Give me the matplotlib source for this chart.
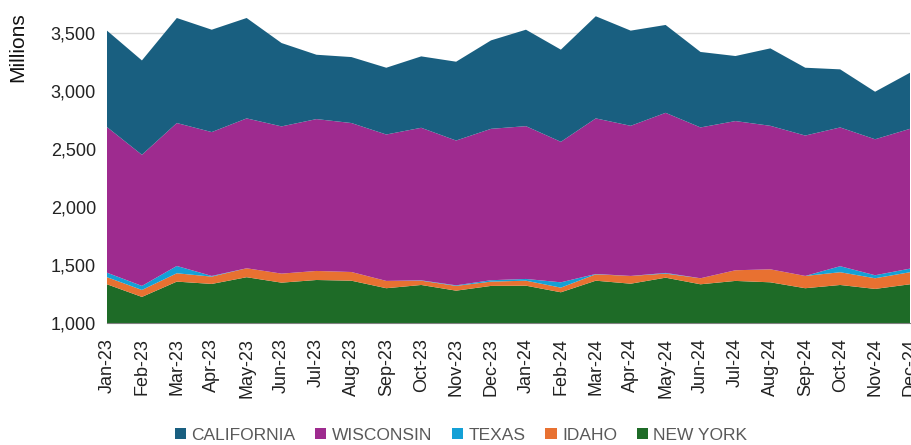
import matplotlib
matplotlib.use("Agg")
import matplotlib.pyplot as plt
import numpy as np

months = ["Jan-23","Feb-23","Mar-23","Apr-23","May-23","Jun-23","Jul-23","Aug-23","Sep-23","Oct-23","Nov-23","Dec-23",
          "Jan-24","Feb-24","Mar-24","Apr-24","May-24","Jun-24","Jul-24","Aug-24","Sep-24","Oct-24","Nov-24","Dec-24"]
new_york = [1334,1225,1357,1337,1395,1348,1371,1365,1300,1328,1279,1320,1322,1265,1365,1339,1391,1334,1363,1351,1300,1328,1294,1334]
idaho = [61,60,72,63,77,78,78,75,63,37,41,37,43,40,55,67,35,52,92,112,106,110,92,104]
texas = [39,35,63,6,0,0,0,0,0,3,5,12,15,46,3,0,6,0,0,0,0,52,26,31]
wisconsin = [1256,1131,1233,1241,1293,1270,1310,1285,1263,1316,1249,1306,1318,1212,1342,1295,1381,1301,1287,1238,1211,1197,1173,1206]
california = [832,814,906,883,866,719,555,569,576,616,680,763,832,795,881,821,758,651,561,668,585,501,410,484]

series = [("NEW YORK", new_york, "#1e6b27"),
          ("IDAHO", idaho, "#e87131"),
          ("TEXAS", texas, "#14a0d6"),
          ("WISCONSIN", wisconsin, "#9e2b8f"),
          ("CALIFORNIA", california, "#195f80")]

plt.rcParams['font.family'] = ['Liberation Sans', 'DejaVu Sans']

fig = plt.figure(figsize=(9.11, 4.45), dpi=100)
ax = fig.add_axes([107/911, 1-323/445, 803/911, 313/445])
x = np.arange(len(months))
ax.axhline(3500, color="#d9d9d9", lw=1, zorder=0)
ax.stackplot(x, [s[1] for s in series], colors=[s[2] for s in series],
             labels=[s[0] for s in series], zorder=2)
ax.set_xlim(0, len(months)-1)
ax.set_ylim(1000, 3700)
ax.set_yticks([1000,1500,2000,2500,3000,3500])
ax.set_yticklabels([f"{v:,}" for v in [1000,1500,2000,2500,3000,3500]], fontsize=13, color="#222222")
ax.set_xticks(x)
ax.set_xticklabels(months, rotation=90, fontsize=13, color="#222222")
ax.tick_params(axis='y', length=0, pad=8)
ax.tick_params(axis='x', length=0, pad=11)
for s in ["top","right","left"]:
    ax.spines[s].set_visible(False)
ax.spines["bottom"].set_color("#808080")
fig.text(18/911, 1-12/445, "Millions", rotation=90, ha="center", va="top", fontsize=15, color="#111111")

handles, labels = ax.get_legend_handles_labels()
order = [4,3,2,1,0]
fig.legend([handles[i] for i in order], [labels[i] for i in order], loc="center",
           bbox_to_anchor=(461/911, 1-435/445), ncol=5, frameon=False,
           prop={'size': 12.5},
           handlelength=0.65, handleheight=0.65, handletextpad=0.3, columnspacing=1.15,
           labelcolor="#595959")
fig.savefig("out.png", dpi=100)
